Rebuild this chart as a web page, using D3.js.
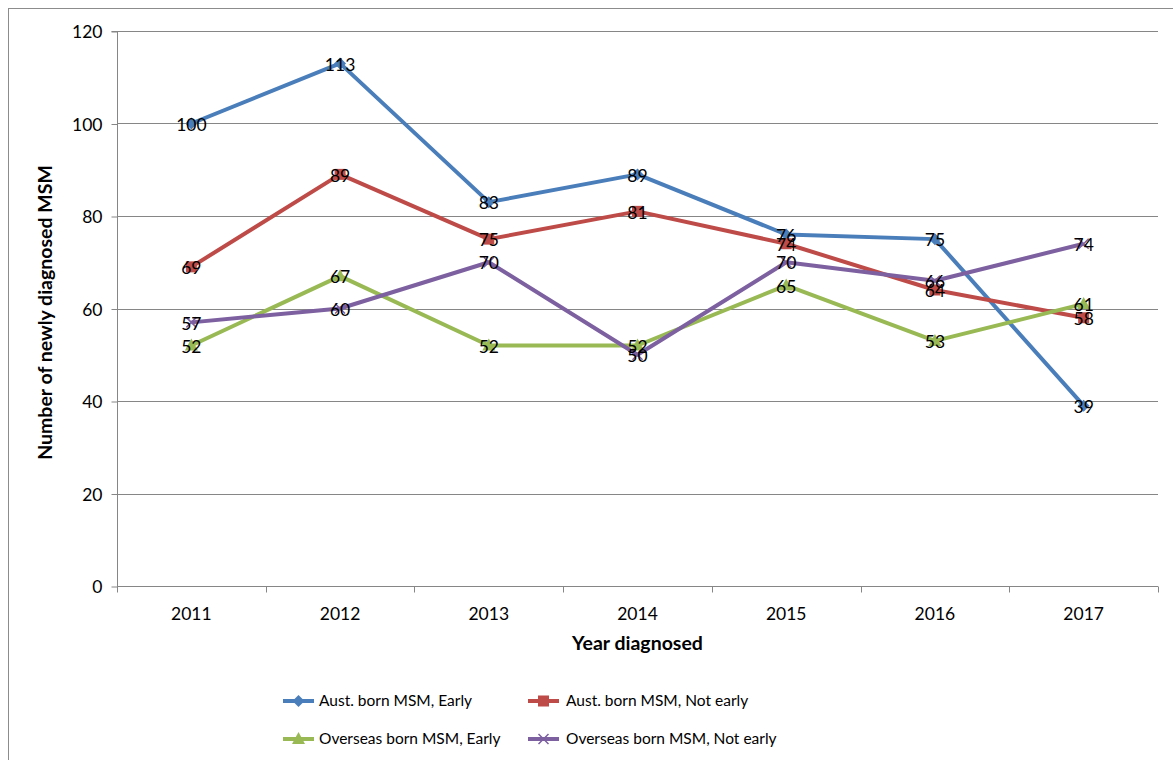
<!DOCTYPE html>
<html>
<head>
<meta charset="utf-8">
<script src="https://cdn.jsdelivr.net/npm/d3@7/dist/d3.min.js"></script>
<style>
  html, body { margin: 0; padding: 0; background: #fff; }
  svg { display: block; }
  text { font-family: Lato, "Open Sans", "Liberation Sans", sans-serif; fill: #000; }
</style>
</head>
<body>
<svg id="chart" width="1173" height="760"></svg>
<script>
// Newly diagnosed MSM by year, birthplace and timing of diagnosis
const years = ["2011", "2012", "2013", "2014", "2015", "2016", "2017"];
const austEarly = [100, 113, 83, 89, 76, 75, 39];
const austNotEarly = [69, 89, 75, 81, 74, 64, 58];
const overseasEarly = [52, 67, 52, 52, 65, 53, 61];
const overseasNotEarly = [57, 60, 70, 50, 70, 66, 74];
const yTicks = [0, 20, 40, 60, 80, 100, 120];
const seriesNames = [
  "Aust. born MSM, Early",
  "Aust. born MSM, Not early",
  "Overseas born MSM, Early",
  "Overseas born MSM, Not early"
];

const series = [
  { name: seriesNames[0], values: austEarly, color: "#4A7EBB", marker: "diamond" },
  { name: seriesNames[1], values: austNotEarly, color: "#BE4B48", marker: "square" },
  { name: seriesNames[2], values: overseasEarly, color: "#98B954", marker: "triangle" },
  { name: seriesNames[3], values: overseasNotEarly, color: "#7D60A0", marker: "cross" }
];

const FS = "17.5px";
const svg = d3.select("#chart");
const plot = { left: 117, right: 1158, top: 31, bottom: 586 };

// outer chart frame
svg.append("rect")
  .attr("x", 8.5).attr("y", 8.5)
  .attr("width", 1180).attr("height", 780)
  .attr("fill", "none").attr("stroke", "#8c8c8c").attr("stroke-width", 1);

const x = d3.scaleBand().domain(years).range([plot.left, plot.right]);
const y = d3.scaleLinear().domain([0, 120]).range([plot.bottom, plot.top]);

// horizontal gridlines
svg.append("g").selectAll("line")
  .data(yTicks.filter(d => d > 0))
  .join("line")
  .attr("x1", plot.left).attr("x2", plot.right)
  .attr("y1", d => Math.round(y(d)) + 0.5).attr("y2", d => Math.round(y(d)) + 0.5)
  .attr("stroke", "#868686").attr("stroke-width", 1);

// y axis
const yAxis = svg.append("g")
  .attr("transform", `translate(${plot.left + 0.5},0.5)`)
  .call(d3.axisLeft(y).tickValues(yTicks).tickSize(6).tickPadding(9).tickFormat(d3.format("d")));
yAxis.select(".domain").attr("stroke", "#868686").attr("d", `M-6,${plot.top}H0V${plot.bottom}`);
yAxis.selectAll(".tick line").attr("stroke", "#868686");
yAxis.selectAll(".tick text").style("font-size", FS).attr("dy", "0.35em");

// x axis with ticks at category boundaries
const xAxisG = svg.append("g").attr("transform", `translate(0,${plot.bottom + 0.5})`);
xAxisG.append("line")
  .attr("x1", plot.left).attr("x2", plot.right)
  .attr("stroke", "#868686");
const bounds = years.map(d => x(d)).concat([plot.right]);
xAxisG.selectAll("line.tk").data(bounds).join("line").attr("class", "tk")
  .attr("x1", d => Math.round(d) + 0.5).attr("x2", d => Math.round(d) + 0.5)
  .attr("y1", 0).attr("y2", 6).attr("stroke", "#868686");
xAxisG.selectAll("text").data(years).join("text")
  .attr("x", d => x(d) + x.bandwidth() / 2)
  .attr("y", 33)
  .attr("text-anchor", "middle")
  .style("font-size", FS)
  .text(d => d);

// axis titles
svg.append("text")
  .attr("transform", `translate(52,${(plot.top + plot.bottom) / 2 + 4}) rotate(-90)`)
  .attr("text-anchor", "middle")
  .style("font-size", "19.5px").style("font-weight", "bold")
  .text("Number of newly diagnosed MSM");
svg.append("text")
  .attr("x", (plot.left + plot.right) / 2).attr("y", 650)
  .attr("text-anchor", "middle")
  .style("font-size", "19.5px").style("font-weight", "bold")
  .text("Year diagnosed");

function drawMarker(g, type, color, cx, cy) {
  if (type === "diamond") {
    g.append("path").attr("d", `M${cx},${cy - 6}L${cx + 6},${cy}L${cx},${cy + 6}L${cx - 6},${cy}Z`).attr("fill", color);
  } else if (type === "square") {
    g.append("rect").attr("x", cx - 5.5).attr("y", cy - 5.5).attr("width", 11).attr("height", 11).attr("fill", color);
  } else if (type === "triangle") {
    g.append("path").attr("d", `M${cx},${cy - 7}L${cx + 6.5},${cy + 5}L${cx - 6.5},${cy + 5}Z`).attr("fill", color);
  } else if (type === "cross") {
    g.append("path").attr("d", `M${cx - 5},${cy - 5}L${cx + 5},${cy + 5}M${cx + 5},${cy - 5}L${cx - 5},${cy + 5}`)
      .attr("stroke", color).attr("stroke-width", 1.5).attr("fill", "none");
  }
}

const xc = d => x(d) + x.bandwidth() / 2;
const line = d3.line().x((v, i) => xc(years[i])).y(v => y(v));

const linesG = svg.append("g");
series.forEach(s => {
  linesG.append("path")
    .attr("d", line(s.values))
    .attr("fill", "none").attr("stroke", s.color)
    .attr("stroke-width", 4).attr("stroke-linejoin", "round");
});
series.forEach(s => {
  const g = svg.append("g");
  s.values.forEach((v, i) => drawMarker(g, s.marker, s.color, xc(years[i]), y(v)));
});
// value labels centred on each point
series.forEach(s => {
  svg.append("g").selectAll("text").data(s.values).join("text")
    .attr("x", (v, i) => xc(years[i]))
    .attr("y", v => y(v) + 1)
    .attr("dy", "0.35em")
    .attr("text-anchor", "middle")
    .style("font-size", FS)
    .text(v => v);
});

// legend
const legendPos = [
  { lx: 283, tx: 319, ly: 701 },
  { lx: 528, tx: 566, ly: 701 },
  { lx: 283, tx: 319, ly: 739 },
  { lx: 528, tx: 566, ly: 739 }
];
series.forEach((s, i) => {
  const p = legendPos[i];
  const g = svg.append("g");
  g.append("line").attr("x1", p.lx).attr("x2", p.lx + 31)
    .attr("y1", p.ly).attr("y2", p.ly)
    .attr("stroke", s.color).attr("stroke-width", 4);
  drawMarker(g, s.marker, s.color, p.lx + 15.5, p.ly);
  g.append("text").attr("x", p.tx).attr("y", p.ly).attr("dy", "0.35em")
    .style("font-size", "15.5px").text(s.name);
});
</script>
</body>
</html>
